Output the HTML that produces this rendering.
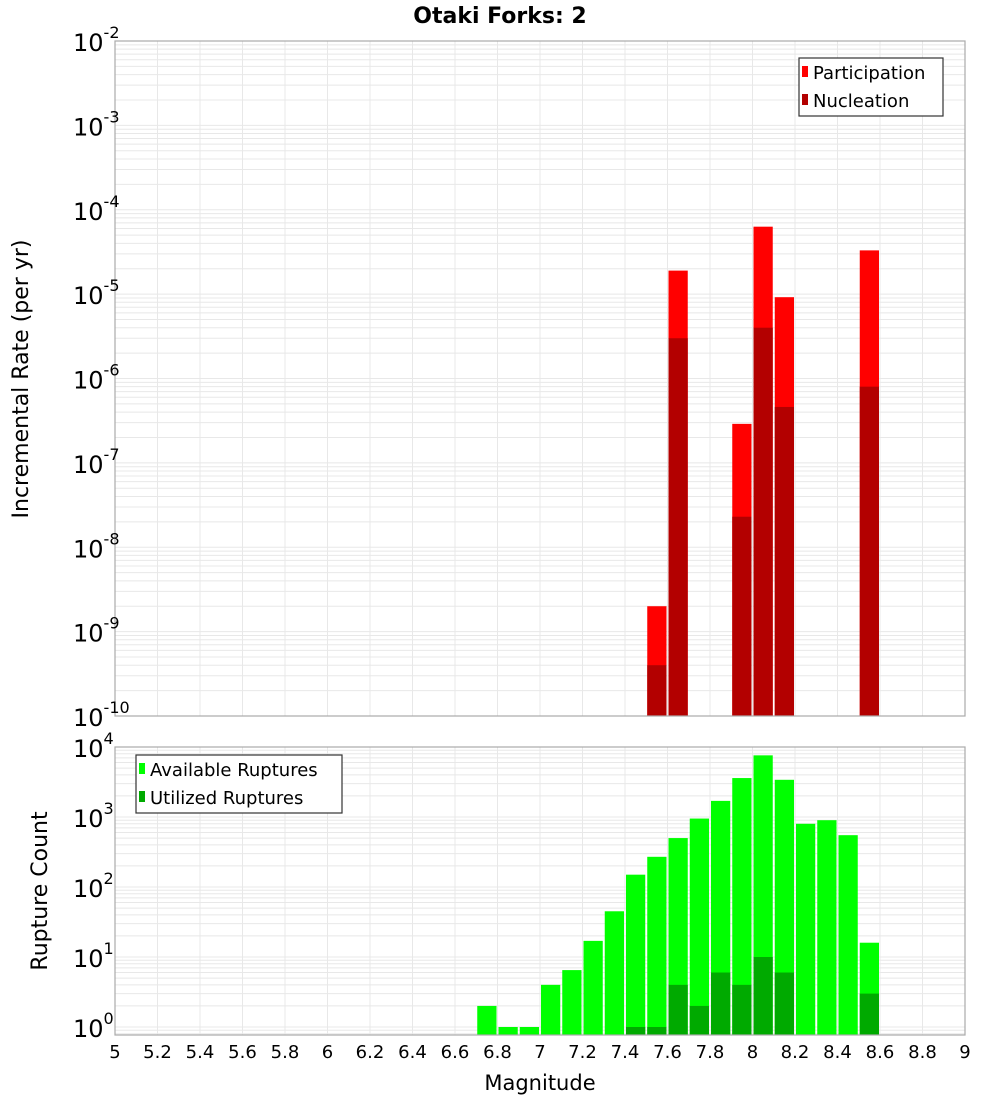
<!DOCTYPE html>
<html><head><meta charset="utf-8"><style>
html,body{margin:0;padding:0;background:#fff;}
svg{display:block;font-family:"Liberation Sans","DejaVu Sans",sans-serif;}
</style></head><body>
<svg id="chart" width="1000" height="1100" viewBox="0 0 1000 1100" xmlns="http://www.w3.org/2000/svg">
<text x="500" y="23" text-anchor="middle" font-size="22" font-weight="bold" font-family="DejaVu Sans, sans-serif">Otaki Forks: 2</text>
<g id="topg"></g><g id="botg"></g>
<text x="540" y="1090" text-anchor="middle" font-size="21" font-family="DejaVu Sans, sans-serif">Magnitude</text>
<text transform="translate(28,379) rotate(-90)" text-anchor="middle" font-size="22" font-family="DejaVu Sans, sans-serif">Incremental Rate (per yr)</text>
<text transform="translate(47,891) rotate(-90)" text-anchor="middle" font-size="22" font-family="DejaVu Sans, sans-serif">Rupture Count</text>
</svg>
<script>
const rateBins = [7.5, 7.6, 7.9, 8.0, 8.1, 8.5];
const participation = [2e-9, 1.9e-5, 2.9e-7, 6.3e-5, 9.2e-6, 3.3e-5];
const nucleation = [4e-10, 3e-6, 2.3e-8, 4e-6, 4.6e-7, 8e-7];
const countBins = [6.7,6.8,6.9,7.0,7.1,7.2,7.3,7.4,7.5,7.6,7.7,7.8,7.9,8.0,8.1,8.2,8.3,8.4,8.5];
const available = [2,1,1,4,6.5,17,45,150,270,500,950,1700,3600,7600,3400,800,900,550,16];
const utilizedBins = [7.4,7.5,7.6,7.7,7.8,7.9,8.0,8.1,8.5];
const utilized = [1,1,4,2,6,4,10,6,3];
const xTicks = [5,5.2,5.4,5.6,5.8,6,6.2,6.4,6.6,6.8,7,7.2,7.4,7.6,7.8,8,8.2,8.4,8.6,8.8,9];

const NS="http://www.w3.org/2000/svg";
const X0=115,X1=965;
const xs=m=>X0+(m-5)/4*(X1-X0);
const yTop=v=>41+(-2-Math.log10(v))*84.375;
const yBot=v=>747+(4-Math.log10(v))*70;
function mk(tag,attrs,parent){const e=document.createElementNS(NS,tag);for(const k in attrs)e.setAttribute(k,attrs[k]);parent.appendChild(e);return e;}
const topG=document.getElementById('topg'),botG=document.getElementById('botg');

function grid(g,yf,d0,d1,yA,yB){
  for(let d=d0;d<d1;d++)for(let k=1;k<10;k++){const yy=yf(k*Math.pow(10,d));if(yy<yA-0.5||yy>yB+0.5)continue;
    const l=mk('line',{x1:X0,x2:X1,y1:yy,y2:yy,stroke:'#e8e8e8','stroke-width':1},g);
    
    }
  xTicks.forEach(t=>{const l=mk('line',{x1:xs(t),x2:xs(t),y1:yA,y2:yB,stroke:'#e8e8e8','stroke-width':1},g);
    
    });
}
grid(topG,yTop,-10,-2,41,716);
grid(botG,yBot,-1,4,747,1035);

function bar(g,b,v,yf,base,col,name){
  const yy=yf(v);const r=mk('rect',{x:xs(b)+1,y:yy,width:xs(b+0.1)-xs(b)-2,height:base-yy,fill:col},g);
  
  
}
rateBins.forEach((b,i)=>bar(topG,b,participation[i],yTop,716,'#ff0000','participation-bar'));
rateBins.forEach((b,i)=>bar(topG,b,nucleation[i],yTop,716,'#b30000','nucleation-bar'));
countBins.forEach((b,i)=>bar(botG,b,available[i],yBot,1035,'#00ff00','available-bar'));
utilizedBins.forEach((b,i)=>bar(botG,b,utilized[i],yBot,1035,'#00aa00','utilized-bar'));

function frame(g,yA,yB,name){const r=mk('rect',{x:X0,y:yA,width:X1-X0,height:yB-yA,fill:'none',stroke:'#aaa','stroke-width':1.2},g);
  
  }
frame(topG,41,716,'top-plot-frame');frame(botG,747,1035,'bottom-plot-frame');

function ylab(g,yy,exp,name){const t=mk('text',{x:73,y:yy+10,'font-size':24,'font-family':'DejaVu Sans, sans-serif'},g);
  t.textContent='10';const s=mk('tspan',{dy:-13,'font-size':16},t);s.textContent=exp;
  
  }
for(let d=-2;d>=-10;d--)ylab(topG,yTop(Math.pow(10,d)),String(d),'top-y-tick-label');
for(let d=4;d>=0;d--)ylab(botG,yBot(Math.pow(10,d)),String(d),'bottom-y-tick-label');

xTicks.forEach(t=>{const e=mk('text',{x:xs(t),y:1058,'text-anchor':'middle','font-size':18,'font-family':'DejaVu Sans, sans-serif'},botG);
  e.textContent=String(t);
  
  });

function legend(g,lx,ly,w,items,name){
  const lg=mk('g',{},g);
  
  
  mk('rect',{x:lx,y:ly,width:w,height:58,fill:'#fff',stroke:'#333','stroke-width':1.2},lg);
  items.forEach((it,i)=>{const cy=ly+14+i*28;
    mk('rect',{x:lx+3,y:cy-6,width:6,height:11,fill:it[1]},lg);
    const t=mk('text',{x:lx+14,y:cy+7,'font-size':18,'font-family':'DejaVu Sans, sans-serif'},lg);t.textContent=it[0];
    
    });
}
legend(topG,799,58,144,[['Participation','#ff0000'],['Nucleation','#b30000']],'top-legend');
legend(botG,136,755,206,[['Available Ruptures','#00ff00'],['Utilized Ruptures','#00aa00']],'bottom-legend');
</script>
</body></html>
